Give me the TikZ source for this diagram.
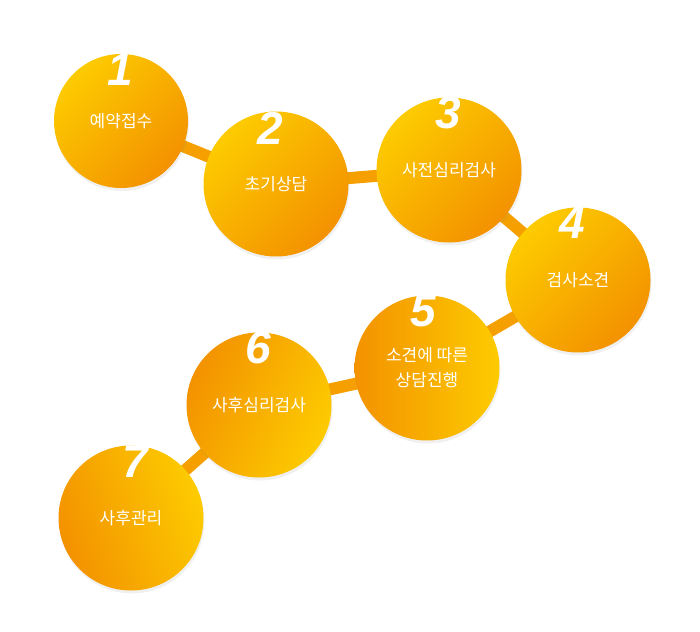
\documentclass[tikz,border=0pt]{standalone}
\usepackage{fontspec}
\newfontfamily\krfont{Noto Sans CJK KR}
\newfontfamily\numfont{Liberation Sans}
\usetikzlibrary{backgrounds, shadows}
\definecolor{ballyellow}{HTML}{FDCB00}
\definecolor{ballorange}{HTML}{F39200}
\tikzstyle{ball} = [circle, minimum size=145pt, inner sep=0pt, text=white,
align=center, font=\krfont\fontsize{17}{25}\selectfont,
drop shadow={opacity=0.12, shadow xshift=1pt, shadow yshift=-3pt}]
\tikzstyle{ballA} = [ball, top color=ballyellow, bottom color=ballorange, shading angle=45]
\tikzstyle{ballB} = [ball, left color=ballorange, right color=ballyellow, shading angle=100]
\tikzstyle{num} = [inner sep=0pt, text=white, font=\numfont\bfseries\itshape\fontsize{46}{46}\selectfont]
\tikzstyle{link} = [line width=12pt, color=ballorange!75!ballyellow]

\begin{document}
\begin{tikzpicture}[x=1pt,y=-1pt]
  \useasboundingbox (0,0) rectangle (700,631);
  \node [ballA, minimum size=134pt] (s1) at (121,121) {예약접수};
  \node [ballA] (s2) at (276,184) {초기상담};
  \node [ballA] (s3) at (449,170) {사전심리검사};
  \node [ballA] (s4) at (578,280) {검사소견};
  \node [ballB, shading angle=90] (s5) at (427,368) {소견에 따른\\상담진행};
  \node [ballB, shading angle=65] (s6) at (259,405) {사후심리검사};
  \node [ballB, shading angle=110] (s7) at (131,518) {사후관리};
  % step numbers
  \node [num] (n1) at (120,70) {1};
  \node [num] (n2) at (270,128) {2};
  \node [num] (n3) at (448,113) {3};
  \node [num] (n4) at (572,223) {4};
  \node [num] (n5) at (423,311) {5};
  \node [num] (n6) at (258,348) {6};
  \node [num] (n7) at (135,462) {7};
  \begin{pgfonlayer}{background}
    \foreach \a/\b in {s1/s2, s2/s3, s3/s4, s4/s5, s5/s6, s6/s7}
      \draw [link] (\a.center) -- (\b.center);
  \end{pgfonlayer}
\end{tikzpicture}
\end{document}
